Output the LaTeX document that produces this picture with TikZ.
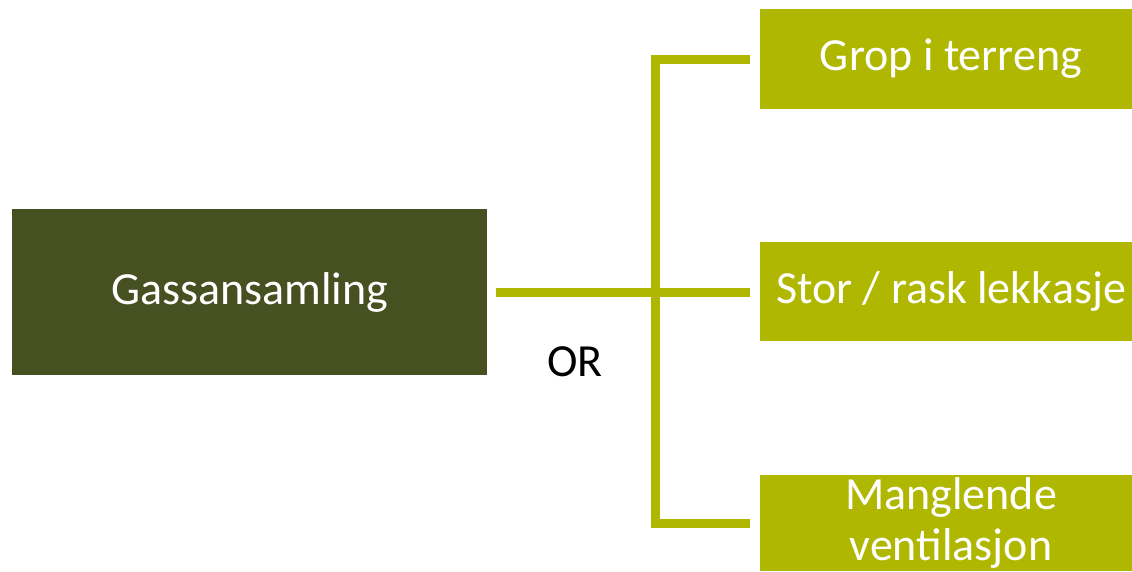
\documentclass[tikz,border=0pt]{standalone}
\usepackage{fontspec}
\setmainfont{Carlito}
\definecolor{darkolive}{HTML}{465021}
\definecolor{lightolive}{HTML}{B0B700}
\tikzset{
  darkbox/.style={fill=darkolive, text=white, inner sep=0pt, font=\fontsize{46}{51}\selectfont, align=center},
  lightbox/.style={fill=lightolive, text=white, inner sep=0pt, minimum width=382pt, font=\fontsize{46}{51}\selectfont, align=center},
  conn/.style={draw=lightolive, line width=9pt, line join=miter, line cap=butt},
  lbl/.style={text=black, font=\fontsize{46}{51}\selectfont, inner sep=0pt}
}
\begin{document}
\begin{tikzpicture}[x=1pt,y=-1pt]
\useasboundingbox (0,0) rectangle (1132,571);
\node[darkbox, minimum width=475pt, minimum height=166pt] (g) at (249.5,292) {Gassansamling};
\node[lightbox, minimum height=100pt] (b1) at (951,59) {Grop i terreng};
\node[lightbox, minimum height=99pt] (b2) at (951,291.5) {Stor / rask lekkasje};
\node[lightbox, minimum height=96pt] (b3) at (951,523) {Manglende\\ventilasjon};
\coordinate (v) at (655.5,0);
\draw[conn, shorten <=9pt, shorten >=10pt] (g.east) -- (g.east -| b2.west);
\draw[conn] ([xshift=-10pt]b1.west) -- (b1.west -| v) -- (b3.west -| v) -- ([xshift=-10pt]b3.west);
\node[lbl] (or) at (575,362) {OR};
\end{tikzpicture}
\end{document}
